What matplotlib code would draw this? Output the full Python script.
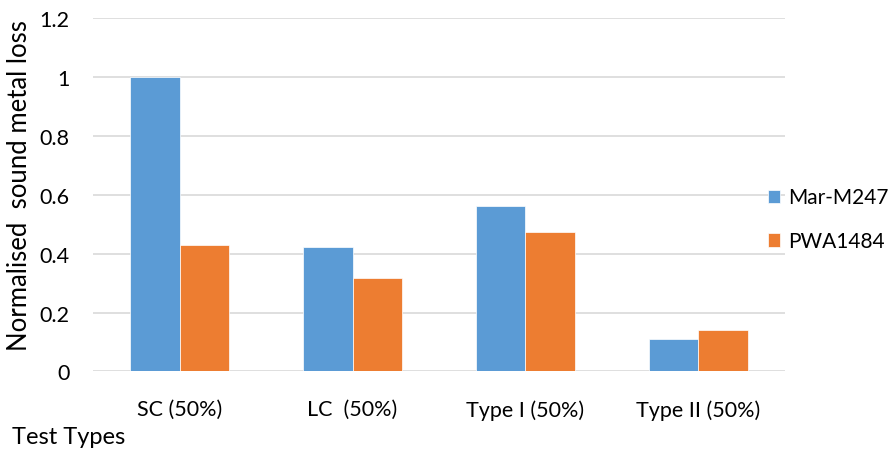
import matplotlib
matplotlib.use("Agg")
import matplotlib.pyplot as plt
import numpy as np

categories = ["SC (50%)", "LC  (50%)", "Type I (50%)", "Type II (50%)"]
mar_m247 = [1.0, 0.423, 0.563, 0.109]
pwa1484 = [0.429, 0.316, 0.475, 0.140]
series_names = ["Mar-M247", "PWA1484"]
ytick_labels = ["0", "0.2", "0.4", "0.6", "0.8", "1", "1.2"]

plt.rcParams['font.family'] = ['Lato', 'DejaVu Sans']
FS = 15.5

fig = plt.figure(figsize=(8.95, 4.52), dpi=100)
ax = fig.add_axes([0.104, 0.176, 0.773, 0.782])

x = np.arange(len(categories))
w = 0.285
ax.bar(x - w/2, mar_m247, w, color="#5B9BD5", edgecolor="white", linewidth=0.5, label=series_names[0], zorder=3)
ax.bar(x + w/2, pwa1484, w, color="#ED7D31", edgecolor="white", linewidth=0.5, label=series_names[1], zorder=3)

ax.set_xlim(-0.5, len(categories) - 0.5)
ax.set_ylim(0, 1.2)
ax.set_yticks([0, 0.2, 0.4, 0.6, 0.8, 1.0, 1.2])
ax.set_yticklabels(ytick_labels)
ax.yaxis.grid(True, color="#d9d9d9", linewidth=1.2, zorder=0)
ax.set_axisbelow(True)
for s in ["top", "right", "left", "bottom"]:
    ax.spines[s].set_visible(False)
ax.tick_params(axis="both", length=0, labelsize=FS, colors="black")
ax.tick_params(axis="y", pad=17)
ax.tick_params(axis="x", pad=20)
ax.set_xticks(x)
ax.set_xticklabels(categories)

ax.set_ylabel("Normalised  sound metal loss", fontsize=18.5)
ax.yaxis.set_label_coords(-0.088, 0.53)
fig.text(0.013, 0.018, "Test Types", fontsize=17, ha="left", va="baseline")

leg = ax.legend(loc="center left", bbox_to_anchor=(0.975, 0.43), frameon=False,
                fontsize=15, handlelength=0.6, handleheight=0.6, handletextpad=0.4,
                labelspacing=1.15, borderpad=0, borderaxespad=0)

fig.savefig("out.png", dpi=100)
